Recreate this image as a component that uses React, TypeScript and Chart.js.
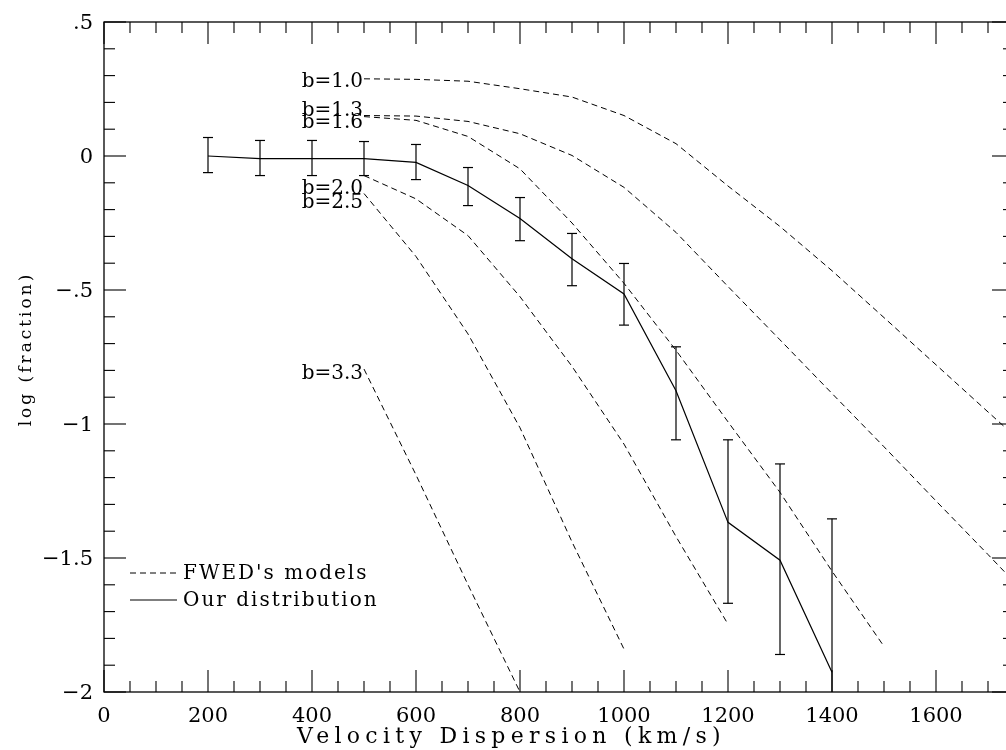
import React, { useEffect, useRef } from "react";
import { Chart, registerables } from "chart.js";

Chart.register(...registerables);

// ---------- data ----------
const velocities = [200, 300, 400, 500, 600, 700, 800, 900, 1000, 1100, 1200, 1300, 1400];
const ourLogFrac = [0.0, -0.01, -0.01, -0.01, -0.024, -0.11, -0.233, -0.383, -0.515, -0.876, -1.367, -1.508, -1.926];
const ourErrHigh = [0.069, 0.058, 0.058, 0.054, 0.043, -0.043, -0.155, -0.289, -0.401, -0.712, -1.059, -1.149, -1.354];
const ourErrLow = [-0.062, -0.073, -0.073, -0.073, -0.088, -0.185, -0.316, -0.484, -0.631, -1.059, -1.669, -1.86, -2.3];

const modelNames = ["b=1.0", "b=1.3", "b=1.6", "b=2.0", "b=2.5", "b=3.3"];
const modelB10X = [500, 600, 700, 800, 900, 1000, 1100, 1200, 1300, 1400, 1500, 1600, 1700, 1800];
const modelB10Y = [0.288, 0.286, 0.279, 0.251, 0.22, 0.151, 0.046, -0.112, -0.263, -0.428, -0.603, -0.779, -0.955, -1.13];
const modelB13X = [500, 600, 700, 800, 900, 1000, 1100, 1200, 1300, 1400, 1500, 1600, 1700, 1800];
const modelB13Y = [0.151, 0.149, 0.129, 0.083, 0.002, -0.117, -0.285, -0.487, -0.686, -0.886, -1.085, -1.287, -1.487, -1.69];
const modelB16X = [500, 600, 700, 800, 900, 1000, 1100, 1200, 1300, 1400, 1500];
const modelB16Y = [0.147, 0.133, 0.073, -0.048, -0.25, -0.475, -0.725, -0.992, -1.255, -1.549, -1.83];
const modelB20X = [500, 600, 700, 800, 900, 1000, 1100, 1200];
const modelB20Y = [-0.073, -0.16, -0.297, -0.525, -0.785, -1.075, -1.42, -1.747];
const modelB25X = [500, 600, 700, 800, 900, 1000];
const modelB25Y = [-0.14, -0.375, -0.664, -1.014, -1.44, -1.84];
const modelB33X = [500, 600, 700, 800];
const modelB33Y = [-0.795, -1.19, -1.6, -2.0];

const xTickValues = [0, 200, 400, 600, 800, 1000, 1200, 1400, 1600];
const xTickLabels = ["0", "200", "400", "600", "800", "1000", "1200", "1400", "1600"];
const yTickValues = [0.5, 0, -0.5, -1, -1.5, -2];
const yTickLabels = [".5", "0", "\u2212.5", "\u22121", "\u22121.5", "\u22122"];

const xTitle = "Velocity Dispersion (km/s)";
const yTitle = "log (fraction)";
const legendLabels = ["FWED's models", "Our distribution"];

// ---------- styles ----------
const X_MIN = 0;
const X_MAX = 1750;
const Y_MIN = -2;
const Y_MAX = 0.5;
const FONT = "'DejaVu Serif', serif";
const DASH = [6, 4];
const labelDy = [8, 0, 11, 18, 14, 10];

const modelX = [modelB10X, modelB13X, modelB16X, modelB20X, modelB25X, modelB33X];
const modelY = [modelB10Y, modelB13Y, modelB16Y, modelB20Y, modelB25Y, modelB33Y];

const decorPlugin = {
  id: "decor",
  afterDatasetsDraw(chart: any) {
    const { ctx, chartArea: a, scales } = chart;
    const x = scales.x;
    const y = scales.y;
    ctx.save();
    ctx.strokeStyle = "#000";
    ctx.fillStyle = "#000";
    ctx.lineWidth = 1.2;
    ctx.setLineDash([]);
    const line = (x1: number, y1: number, x2: number, y2: number) => {
      ctx.beginPath();
      ctx.moveTo(x1, y1);
      ctx.lineTo(x2, y2);
      ctx.stroke();
    };

    // error bars (clipped to plot area)
    ctx.save();
    ctx.beginPath();
    ctx.rect(a.left, a.top, a.right - a.left, a.bottom - a.top);
    ctx.clip();
    for (let i = 0; i < velocities.length; i++) {
      const px = x.getPixelForValue(velocities[i]);
      const pTop = y.getPixelForValue(ourErrHigh[i]);
      const pBot = y.getPixelForValue(ourErrLow[i]);
      line(px, pTop, px, pBot);
      line(px - 5, pTop, px + 5, pTop);
      line(px - 5, pBot, px + 5, pBot);
    }
    ctx.restore();

    // frame
    ctx.lineWidth = 1.3;
    ctx.strokeRect(a.left, a.top, a.right - a.left, a.bottom - a.top);
    ctx.lineWidth = 1.1;

    // x ticks (inward, top and bottom)
    for (let v = X_MIN; v <= X_MAX + 0.01; v += 50) {
      const px = x.getPixelForValue(v);
      const len = v % 200 === 0 ? 22 : 11;
      line(px, a.bottom, px, a.bottom - len);
      line(px, a.top, px, a.top + len);
    }
    // y ticks (inward, left and right)
    for (let k = 0; k <= 25; k++) {
      const v = Y_MIN + k * 0.1;
      const py = y.getPixelForValue(v);
      const len = k % 5 === 0 ? 22 : 11;
      line(a.left, py, a.left + len, py);
      line(a.right, py, a.right - len, py);
    }

    // tick labels
    ctx.font = `21px ${FONT}`;
    ctx.textAlign = "center";
    ctx.textBaseline = "alphabetic";
    xTickValues.forEach((v, i) => {
      ctx.fillText(xTickLabels[i], x.getPixelForValue(v), a.bottom + 30);
    });
    ctx.textAlign = "right";
    yTickValues.forEach((v, i) => {
      ctx.fillText(yTickLabels[i], a.left - 11, y.getPixelForValue(v) + 7);
    });

    // axis titles
    (ctx as any).letterSpacing = "5.3px";
    ctx.font = `22px ${FONT}`;
    ctx.textAlign = "left";
    ctx.fillText(xTitle, 297, 743);
    ctx.save();
    ctx.translate(31, 349);
    ctx.rotate(-Math.PI / 2);
    ctx.textAlign = "center";
    (ctx as any).letterSpacing = "3px";
    ctx.font = `17px ${FONT}`;
    ctx.fillText(yTitle, 0, 0);
    ctx.restore();

    // curve labels
    (ctx as any).letterSpacing = "0px";
    ctx.font = `20px ${FONT}`;
    ctx.textAlign = "right";
    modelNames.forEach((name, i) => {
      const px = x.getPixelForValue(modelX[i][0]);
      const py = y.getPixelForValue(modelY[i][0]);
      ctx.fillText(name, px - 1, py + labelDy[i]);
    });

    // legend
    const lx0 = a.left + 26;
    const lx1 = a.left + 73;
    const ly0 = y.getPixelForValue(-1.5) + 15;
    const ly1 = ly0 + 27;
    ctx.lineWidth = 1;
    ctx.setLineDash(DASH);
    line(lx0, ly0, lx1, ly0);
    ctx.setLineDash([]);
    ctx.lineWidth = 1.2;
    line(lx0, ly1, lx1, ly1);
    (ctx as any).letterSpacing = "2px";
    ctx.font = `20px ${FONT}`;
    ctx.textAlign = "left";
    ctx.fillText(legendLabels[0], lx1 + 6, ly0 + 6);
    ctx.fillText(legendLabels[1], lx1 + 6, ly1 + 6);
    ctx.restore();
  },
};

export default function App() {
  const ref = useRef<HTMLCanvasElement | null>(null);
  useEffect(() => {
    if (!ref.current) return;
    const modelSets = modelNames.map((name, i) => ({
      label: name,
      data: modelX[i].map((v, j) => ({ x: v, y: modelY[i][j] })),
      borderColor: "#000",
      borderWidth: 1,
      borderDash: DASH,
      pointRadius: 0,
      fill: false,
      tension: 0,
    }));
    const chart = new Chart(ref.current, {
      type: "line",
      data: {
        datasets: [
          ...modelSets,
          {
            label: legendLabels[1],
            data: velocities.map((v, j) => ({ x: v, y: ourLogFrac[j] })),
            borderColor: "#000",
            borderWidth: 1.2,
            pointRadius: 0,
            fill: false,
            tension: 0,
          },
        ],
      },
      options: {
        responsive: false,
        animation: false,
        devicePixelRatio: 1,
        layout: { padding: { left: 104, top: 22, right: 16, bottom: 58 } },
        plugins: { legend: { display: false }, tooltip: { enabled: false } },
        scales: {
          x: { type: "linear", min: X_MIN, max: X_MAX, display: false },
          y: { type: "linear", min: Y_MIN, max: Y_MAX, display: false },
        },
      },
      plugins: [decorPlugin],
    });
    return () => chart.destroy();
  }, []);
  return (
    <div style={{ position: "fixed", left: 0, top: 0, width: 1006, height: 750, overflow: "hidden", background: "#fff" }}>
      <canvas ref={ref} width={1030} height={750} style={{ width: 1030, height: 750, display: "block" }} />
    </div>
  );
}
